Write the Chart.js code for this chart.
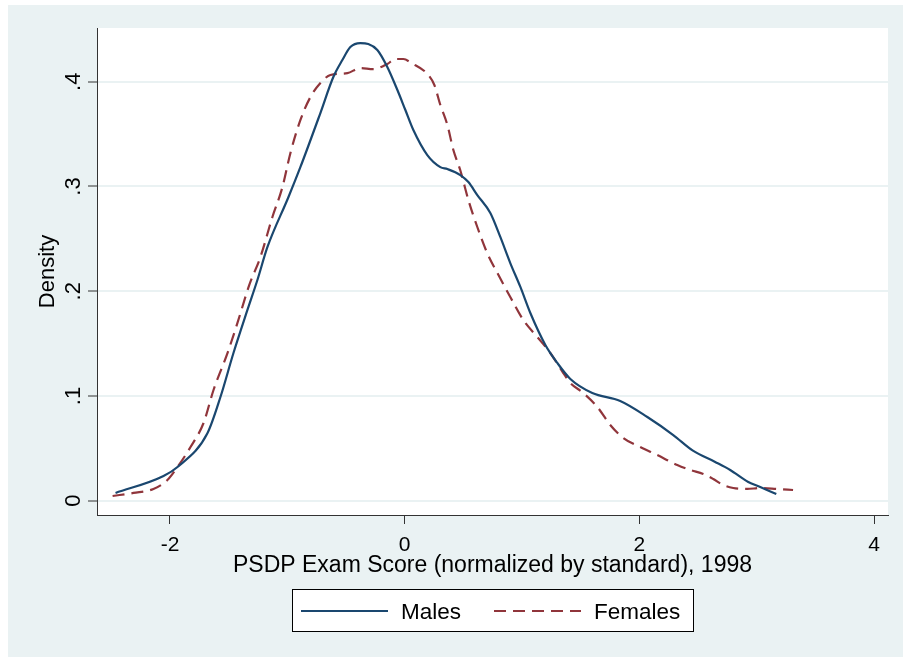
<!DOCTYPE html>
<html>
<head>
<meta charset="utf-8">
<title>PSDP Exam Score density, 1998</title>
<script src="https://cdn.jsdelivr.net/npm/chart.js@4"></script>
<style>
  html, body { margin: 0; padding: 0; background: #fff; }
  canvas { display: block; }
</style>
</head>
<body>
<canvas id="density-chart" width="903" height="657"></canvas>
<script>
// Kernel density values
const malesX = [-2.464, -2.055, -1.936, -1.681, -1.570, -1.459, -1.340, -1.255, -1.170, -0.991, -0.889, -0.719, -0.608, -0.531, -0.463, -0.378, -0.310, -0.233, -0.148, -0.062, 0.006, 0.074, 0.193, 0.304, 0.364, 0.474, 0.543, 0.619, 0.730, 0.815, 0.900, 0.986, 1.071, 1.199, 1.301, 1.412, 1.599, 1.837, 2.068, 2.289, 2.460, 2.646, 2.774, 2.928, 3.030, 3.167];
const malesY = [0.0074, 0.0236, 0.0322, 0.0644, 0.0990, 0.1410, 0.1821, 0.2107, 0.2420, 0.2897, 0.3184, 0.3699, 0.4045, 0.4207, 0.4331, 0.4369, 0.4360, 0.4303, 0.4141, 0.3921, 0.3730, 0.3539, 0.3300, 0.3185, 0.3166, 0.3109, 0.3042, 0.2918, 0.2747, 0.2518, 0.2269, 0.2041, 0.1792, 0.1487, 0.1315, 0.1162, 0.1028, 0.0952, 0.0799, 0.0627, 0.0475, 0.0370, 0.0293, 0.0179, 0.0131, 0.0064];

const femalesX = [-2.489, -2.311, -2.141, -2.022, -1.936, -1.825, -1.714, -1.629, -1.510, -1.425, -1.324, -1.229, -1.127, -1.042, -0.974, -0.889, -0.803, -0.718, -0.633, -0.488, -0.378, -0.267, -0.148, -0.079, -0.011, 0.057, 0.202, 0.253, 0.304, 0.364, 0.415, 0.474, 0.543, 0.619, 0.704, 0.790, 0.900, 1.011, 1.130, 1.241, 1.352, 1.412, 1.523, 1.642, 1.752, 1.863, 2.008, 2.152, 2.323, 2.434, 2.545, 2.630, 2.715, 2.800, 2.919, 3.030, 3.173, 3.310];
const femalesY = [0.0045, 0.0074, 0.0112, 0.0198, 0.0322, 0.0513, 0.0742, 0.1057, 0.1410, 0.1697, 0.2060, 0.2327, 0.2709, 0.2993, 0.3318, 0.3633, 0.3854, 0.3988, 0.4064, 0.4082, 0.4131, 0.4121, 0.4169, 0.4217, 0.4217, 0.4179, 0.4064, 0.3969, 0.3778, 0.3587, 0.3348, 0.3155, 0.2871, 0.2613, 0.2363, 0.2174, 0.1945, 0.1725, 0.1563, 0.1410, 0.1219, 0.1124, 0.1028, 0.0895, 0.0723, 0.0599, 0.0513, 0.0436, 0.0341, 0.0293, 0.0255, 0.0207, 0.0150, 0.0121, 0.0112, 0.0121, 0.0112, 0.0102];

const seriesNames = ['Males', 'Females'];
const xTicks = [-2, 0, 2, 4];
const yTicks = [0, 0.1, 0.2, 0.3, 0.4];
const yTickLabels = ['0', '.1', '.2', '.3', '.4'];
const xTitle = 'PSDP Exam Score (normalized by standard), 1998';
const yTitle = 'Density';

const FONT = '"Liberation Sans", Arial, sans-serif';
const BG = '#eaf2f3';
const AXIS = '#333333';

function toPoints(xs, ys) {
    return xs.map((x, i) => ({ x: x, y: ys[i] }));
}

// outer panel and white plot region
const backgroundPlugin = {
    id: 'stataBackground',
    beforeDraw(chart) {
        const ctx = chart.ctx;
        const a = chart.chartArea;
        ctx.save();
        ctx.fillStyle = '#fff';
        ctx.fillRect(0, 0, chart.width, chart.height);
        ctx.fillStyle = BG;
        ctx.fillRect(8, 5, chart.width - 8, chart.height - 5);
        ctx.fillStyle = '#fff';
        ctx.fillRect(a.left, a.top, a.right - a.left, a.bottom - a.top);
        ctx.restore();
    }
};

// tick labels, axis titles and the legend box
const textPlugin = {
    id: 'stataText',
    afterDraw(chart) {
        const ctx = chart.ctx;
        const xs = chart.scales.x;
        const ys = chart.scales.y;
        const a = chart.chartArea;
        ctx.save();
        ctx.fillStyle = '#000';
        ctx.textBaseline = 'alphabetic';
        ctx.textAlign = 'center';

        ctx.font = '21px ' + FONT;
        xTicks.forEach(v => {
            ctx.fillText(v < 0 ? '-' + Math.abs(v) : String(v), xs.getPixelForValue(v), 550.5);
        });

        ctx.font = '22px ' + FONT;
        yTicks.forEach((v, i) => {
            ctx.save();
            ctx.translate(80, ys.getPixelForValue(v));
            ctx.rotate(-Math.PI / 2);
            ctx.fillText(yTickLabels[i], 0, 0);
            ctx.restore();
        });

        ctx.save();
        ctx.translate(54, (a.top + a.bottom) / 2);
        ctx.rotate(-Math.PI / 2);
        ctx.fillText(yTitle, 0, 0);
        ctx.restore();

        ctx.font = '23px ' + FONT;
        ctx.fillText(xTitle, (a.left + a.right) / 2, 572);

        // legend
        ctx.fillStyle = '#fff';
        ctx.fillRect(292, 589, 401, 42);
        ctx.strokeStyle = '#000';
        ctx.lineWidth = 1;
        ctx.strokeRect(292.5, 589.5, 401, 42);
        const starts = [301, 494];
        chart.data.datasets.forEach((ds, i) => {
            ctx.beginPath();
            ctx.setLineDash(ds.borderDash || []);
            ctx.strokeStyle = ds.borderColor;
            ctx.lineWidth = ds.borderWidth;
            ctx.moveTo(starts[i], 611);
            ctx.lineTo(starts[i] + 87, 611);
            ctx.stroke();
            ctx.setLineDash([]);
            ctx.fillStyle = '#000';
            ctx.textAlign = 'left';
            ctx.font = '22.5px ' + FONT;
            ctx.fillText(ds.label, starts[i] + 100, 619);
        });
        ctx.restore();
    }
};

const ctx = document.getElementById('density-chart').getContext('2d');
new Chart(ctx, {
    type: 'line',
    data: {
        datasets: [{
            label: seriesNames[0],
            data: toPoints(malesX, malesY),
            borderColor: '#1a476f',
            borderWidth: 2.2,
            pointRadius: 0,
            cubicInterpolationMode: 'monotone'
        }, {
            label: seriesNames[1],
            data: toPoints(femalesX, femalesY),
            borderColor: '#90353b',
            borderWidth: 2.2,
            borderDash: [12, 7],
            pointRadius: 0,
            cubicInterpolationMode: 'monotone'
        }]
    },
    options: {
        responsive: false,
        animation: false,
        layout: { padding: { top: 28, right: 15, left: 0, bottom: 133 } },
        plugins: { legend: { display: false }, tooltip: { enabled: false } },
        scales: {
            x: {
                type: 'linear',
                min: -2.622,
                max: 4.119,
                afterBuildTicks: s => { s.ticks = xTicks.map(v => ({ value: v })); },
                afterFit: s => { s.height = 9; },
                ticks: { display: false },
                grid: { drawOnChartArea: false, drawTicks: true, tickLength: 9, tickColor: AXIS, tickWidth: 1 },
                border: { color: AXIS, width: 1 }
            },
            y: {
                type: 'linear',
                min: -0.01365,
                max: 0.4513,
                afterBuildTicks: s => { s.ticks = yTicks.map(v => ({ value: v })); },
                afterFit: s => { s.width = 97; },
                ticks: { display: false },
                grid: { color: BG, lineWidth: 2, drawTicks: true, tickLength: 9, tickColor: AXIS, tickWidth: 1 },
                border: { color: AXIS, width: 1 }
            }
        }
    },
    plugins: [backgroundPlugin, textPlugin]
});
</script>
</body>
</html>
